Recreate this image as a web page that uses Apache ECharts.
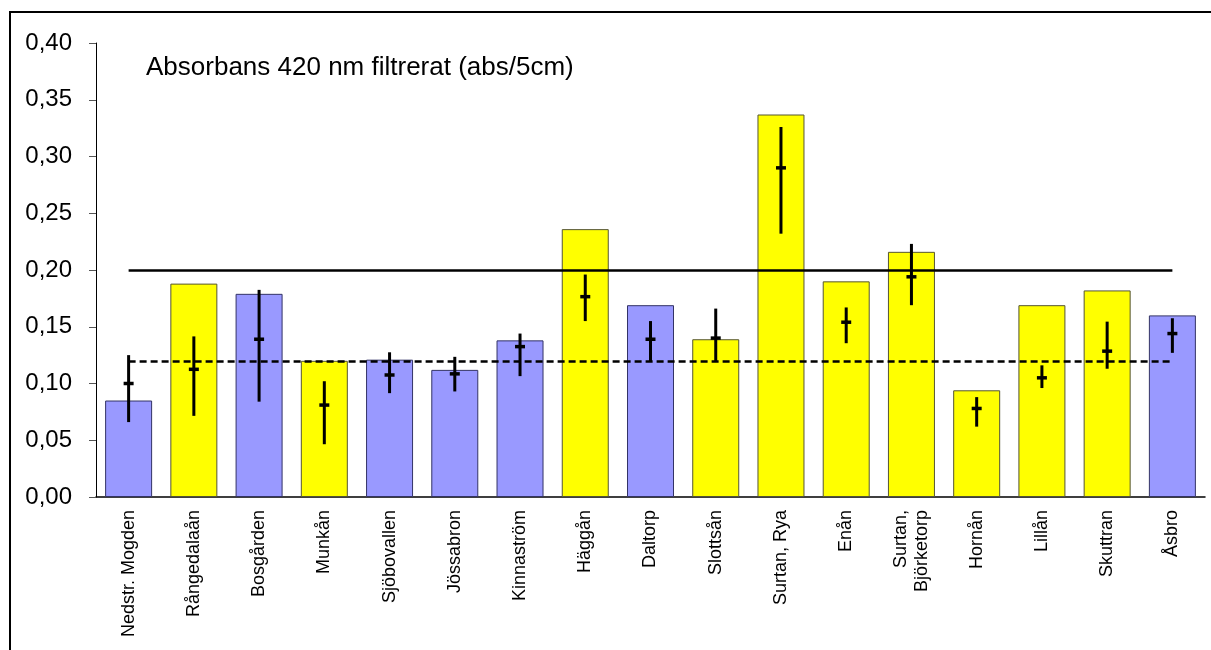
<!DOCTYPE html>
<html><head><meta charset="utf-8">
<script src="https://cdn.jsdelivr.net/npm/echarts@6/dist/echarts.min.js"></script>
<style>html,body{margin:0;padding:0;background:#fff}#c{width:1211px;height:650px}</style>
</head><body><div id="c"></div>
<script>
const categories = ["Nedstr. Mogden","Rångedalaån","Bosgården","Munkån","Sjöbovallen","Jössabron","Kinnaström","Häggån","Daltorp","Slottsån","Surtan, Rya","Enån","Surtan,\nBjörketorp","Hornån","Lillån","Skuttran","Åsbro"];
const barValues = [0.085,0.188,0.179,0.120,0.121,0.112,0.138,0.236,0.169,0.139,0.337,0.190,0.216,0.094,0.169,0.182,0.160];
const groups = ["B","Y","B","Y","B","B","B","Y","B","Y","Y","Y","Y","Y","Y","Y","B"];
const errMean = [0.100,0.1125,0.139,0.081,0.1075,0.1085,0.1325,0.1765,0.139,0.140,0.290,0.154,0.194,0.078,0.105,0.1285,0.144];
const errLow  = [0.066,0.0715,0.084,0.0465,0.0915,0.093,0.1065,0.155,0.119,0.119,0.232,0.1355,0.169,0.062,0.096,0.113,0.127];
const errHigh = [0.125,0.1415,0.1825,0.102,0.1275,0.1235,0.144,0.196,0.155,0.166,0.326,0.167,0.223,0.088,0.116,0.1545,0.1575];
const refHigh = 0.20;
const refLow = 0.12;
const yTicks = ["0,00","0,05","0,10","0,15","0,20","0,25","0,30","0,35","0,40"];
const titleText = "Absorbans 420 nm filtrerat (abs/5cm)";

const colorMap = {B:"#9999FF", Y:"#FFFF00"};
const borderMap = {B:"#333366", Y:"#555533"};
const font = "Liberation Sans, Arial, sans-serif";

const chart = echarts.init(document.getElementById('c'), null, {renderer:'canvas'});
chart.setOption({
  animation:false,
  backgroundColor:'#fff',
  grid:{left:96,right:6,top:43,bottom:153,containLabel:false},
  graphic:[
    {type:'rect',shape:{x:10,y:12,width:1250,height:700},style:{fill:'none',stroke:'#000',lineWidth:2},z:-1},
    {type:'text',left:146,top:55,style:{text:titleText,font:'26px '+font,fill:'#000'}}
  ],
  xAxis:{type:'category',data:categories,
    axisLine:{lineStyle:{color:'#000',width:1.5}},
    axisTick:{show:false},
    axisLabel:{rotate:90,interval:0,color:'#000',fontFamily:font,fontSize:18,margin:13,lineHeight:21}
  },
  yAxis:{type:'value',min:0,max:0.4,interval:0.05,
    axisLine:{show:true,lineStyle:{color:'#000',width:1}},
    axisTick:{show:true,inside:false,length:7,lineStyle:{color:'#555'}},
    splitLine:{show:false},
    axisLabel:{color:'#000',fontFamily:font,fontSize:24,margin:24,
      formatter:(v)=>yTicks[Math.round(v/0.05)]}
  },
  series:[
    {type:'bar',barWidth:47,
      data:barValues.map((v,i)=>({value:v,itemStyle:{color:colorMap[groups[i]],borderColor:borderMap[groups[i]],borderWidth:1}})),
      markLine:{silent:true,symbol:'none',label:{show:false},
        data:[
          [{coord:[0,refHigh],lineStyle:{color:'#000',width:2.5,type:'solid'}},{coord:[categories.length-1,refHigh]}],
          [{coord:[0,refLow],lineStyle:{color:'#000',width:2.5,type:[7,4]}},{coord:[categories.length-1,refLow]}]
        ]}
    },
    {type:'custom',z:5,
      data:categories.map((c,i)=>[i,errLow[i],errHigh[i],errMean[i]]),
      renderItem:function(params,api){
        const i=api.value(0);
        const lo=api.coord([i,api.value(1)]);
        const hi=api.coord([i,api.value(2)]);
        const m=api.coord([i,api.value(3)]);
        return {type:'group',children:[
          {type:'line',shape:{x1:lo[0],y1:lo[1],x2:hi[0],y2:hi[1]},style:{stroke:'#000',lineWidth:3}},
          {type:'line',shape:{x1:m[0]-5,y1:m[1],x2:m[0]+5,y2:m[1]},style:{stroke:'#000',lineWidth:3.5}}
        ]};
      }
    }
  ]
});
</script></body></html>
